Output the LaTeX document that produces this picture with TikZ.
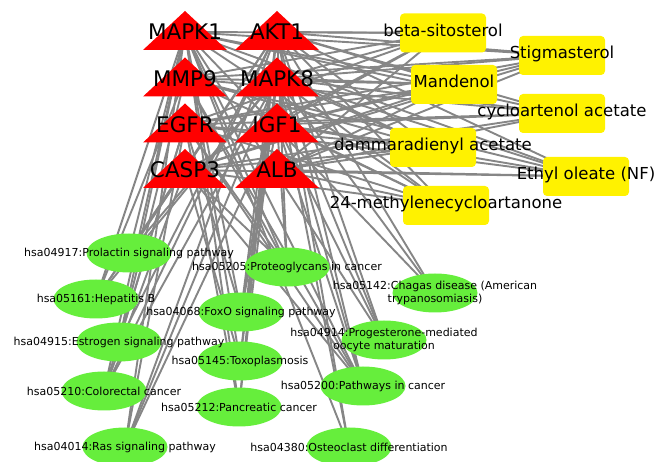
\documentclass[tikz,border=0pt]{standalone}
\usepackage{fontspec}
\setmainfont{DejaVu Sans}
\usetikzlibrary{shapes.geometric,backgrounds}
\definecolor{edgegrey}{RGB}{134,134,134}
\definecolor{limegreen}{RGB}{102,238,60}

\begin{document}
\begin{tikzpicture}[x=1pt,y=-1pt,
    target/.style={font=\fontsize{21.5}{22}\selectfont, inner sep=0pt},
    drug/.style={fill=yellow, rounded corners=4pt, minimum width=86pt, minimum height=39pt, inner sep=0pt},
    drugname/.style={font=\fontsize{16.5}{17}\selectfont, inner sep=0pt, text height=0.9em, text depth=0.2em},
    pway/.style={ellipse, fill=limegreen, minimum width=85pt, minimum height=39pt, inner sep=0pt},
    pwayname/.style={font=\fontsize{11}{13}\selectfont, inner sep=0pt, align=center},
    link/.style={edgegrey, line width=1.9pt}]
    \useasboundingbox (0,0) rectangle (654,462);
    % targets (red triangles)
    \foreach \n/\x/\y/\t in {mapk1/185/30.5/MAPK1, akt1/277/30.5/AKT1,
        mmp9/185/77/MMP9, mapk8/277/77/MAPK8,
        egfr/185/123/EGFR, igf1/277/123/IGF1,
        casp3/185/168.5/CASP3, alb/277/168.5/ALB}{
      \fill[red] (\x-42,\y+19.5) -- (\x+42,\y+19.5) -- (\x,\y-19.5) -- cycle;
      \node[target] (\n) at (\x,\y+1.5) {\t};
    };
    % compounds (yellow boxes)
    \foreach \n/\x/\y in {bsito/443/33, stigma/562/55.5, mand/454/84.5,
        cyclo/562/113.5, damma/433/147.5, ethyl/586/176.5, methyl/446/205.5}
      \node[drug] (\n) at (\x,\y) {};
    % pathways (green ellipses)
    \foreach \n/\x/\y in {p04917/129/253, p05161/96/299, p04915/119/342,
        p05210/104/391, p04014/125/447, p05205/287/267, p04068/241/312,
        p05145/240/361, p05212/239/407, p04380/349/447, p05142/435/293,
        p04914/384/340, p05200/363/386}
      \node[pway] (\n) at (\x,\y) {};
    % edges
    \begin{scope}[on background layer]
      \foreach \d in {bsito,stigma,mand,cyclo,damma,ethyl,methyl}
        \foreach \t in {mapk1,akt1,mmp9,mapk8,egfr,igf1,casp3,alb}
          \draw[link] (\d.center) -- (\t.center);
      \foreach \p/\ts in {p05200/{mapk1,akt1,mmp9,mapk8,egfr,igf1,casp3},
          p05205/{mapk1,akt1,mmp9,egfr,igf1,casp3},
          p04068/{mapk1,akt1,mapk8,egfr,igf1},
          p05145/{mapk1,akt1,mapk8,casp3},
          p05212/{mapk1,akt1,mapk8,egfr},
          p05210/{mapk1,akt1,mapk8,egfr,casp3},
          p05161/{mapk1,akt1,mmp9,mapk8,casp3},
          p04915/{mapk1,akt1,mmp9,egfr},
          p04917/{mapk1,akt1,mapk8},
          p04014/{mapk1,akt1,mapk8,egfr,igf1},
          p04380/{mapk1,akt1,mapk8},
          p05142/{mapk1,akt1,mapk8},
          p04914/{mapk1,akt1,mapk8,igf1}}
        \foreach \t in \ts
          \draw[link] (\p.center) -- (\t.center);
    \end{scope}
    % labels
    \foreach \n/\t in {bsito/beta-sitosterol, stigma/Stigmasterol, mand/Mandenol,
        cyclo/cycloartenol acetate, damma/dammaradienyl acetate,
        ethyl/Ethyl oleate (NF), methyl/24-methylenecycloartanone}
      \node[drugname] (\n-l) at (\n) {\t};
    \foreach \n/\t in {p04917/{hsa04917:Prolactin signaling pathway},
        p05161/{hsa05161:Hepatitis B},
        p04915/{hsa04915:Estrogen signaling pathway},
        p05210/{hsa05210:Colorectal cancer},
        p04014/{hsa04014:Ras signaling pathway},
        p05205/{hsa05205:Proteoglycans in cancer},
        p04068/{hsa04068:FoxO signaling pathway},
        p05145/{hsa05145:Toxoplasmosis},
        p05212/{hsa05212:Pancreatic cancer},
        p04380/{hsa04380:Osteoclast differentiation},
        p05142/{hsa05142:Chagas disease (American\\trypanosomiasis)},
        p04914/{hsa04914:Progesterone-mediated\\oocyte maturation},
        p05200/{hsa05200:Pathways in cancer}}
      \node[pwayname] (\n-l) at (\n) {\t};
\end{tikzpicture}
\end{document}
